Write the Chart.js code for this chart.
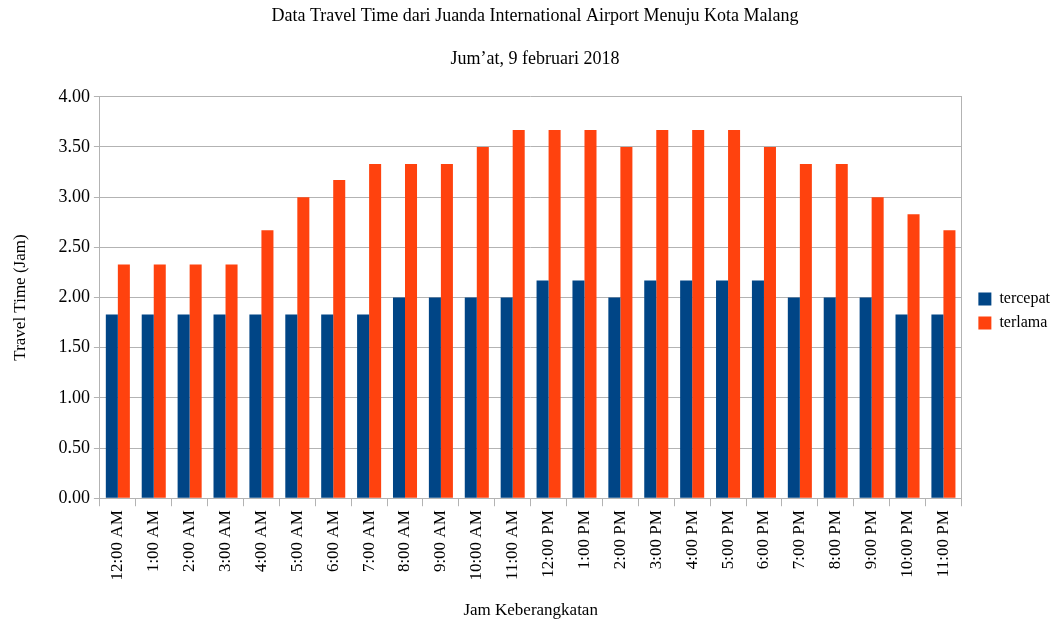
<!DOCTYPE html>
<html>
<head>
<meta charset="utf-8">
<script src="https://cdn.jsdelivr.net/npm/chart.js@4.4.0/dist/chart.umd.min.js"></script>
<style>
  html, body { margin: 0; padding: 0; background: #fff; }
  #wrap { width: 1064px; height: 625px; }
</style>
</head>
<body>
<div id="wrap"><canvas id="travelChart"></canvas></div>
<script>
var hours = ['12:00 AM', '1:00 AM', '2:00 AM', '3:00 AM', '4:00 AM', '5:00 AM', '6:00 AM', '7:00 AM', '8:00 AM', '9:00 AM', '10:00 AM', '11:00 AM',
             '12:00 PM', '1:00 PM', '2:00 PM', '3:00 PM', '4:00 PM', '5:00 PM', '6:00 PM', '7:00 PM', '8:00 PM', '9:00 PM', '10:00 PM', '11:00 PM'];
var tercepat = [1.83, 1.83, 1.83, 1.83, 1.83, 1.83, 1.83, 1.83, 2.00, 2.00, 2.00, 2.00,
                2.17, 2.17, 2.00, 2.17, 2.17, 2.17, 2.17, 2.00, 2.00, 2.00, 1.83, 1.83];
var terlama = [2.33, 2.33, 2.33, 2.33, 2.67, 3.00, 3.17, 3.33, 3.33, 3.33, 3.50, 3.67,
               3.67, 3.67, 3.50, 3.67, 3.67, 3.67, 3.50, 3.33, 3.33, 3.00, 2.83, 2.67];

var serif = 'Liberation Serif, Times New Roman, serif';
Chart.defaults.font.family = serif;
Chart.defaults.color = '#000';

var ctx = document.getElementById('travelChart').getContext('2d');
var travelChart = new Chart(ctx, {
    type: 'bar',
    data: {
    labels: hours,
    datasets: [{
        label: 'tercepat',
        data: tercepat,
        backgroundColor: '#004586'
    }, {
        label: 'terlama',
        data: terlama,
        backgroundColor: '#ff420e'
    }]
    },
    options: {
    responsive: true,
    maintainAspectRatio: false,
    animation: false,
    layout: {
        padding: { left: 10, right: 4, top: 1, bottom: 4 }
    },
    datasets: {
        bar: { categoryPercentage: 0.67, barPercentage: 1.0 }
    },
    scales: {
        x: {
        grid: { display: true, drawOnChartArea: false, offset: true, tickLength: 8, color: '#b3b3b3' },
        border: { color: '#b3b3b3' },
        ticks: { maxRotation: 90, minRotation: 90, autoSkip: false, font: { size: 17 }, padding: 4 },
        title: {
            display: true,
            text: 'Jam Keberangkatan',
            font: { size: 17 },
            padding: { top: 16, bottom: 0 }
        }
        },
        y: {
        min: 0,
        max: 4,
        ticks: {
            stepSize: 0.5,
            font: { size: 18 },
            padding: 4,
            callback: function(v) { return v.toFixed(2); }
        },
        grid: { color: '#b3b3b3', tickLength: 6 },
        border: { color: '#b3b3b3' },
        title: {
            display: true,
            text: 'Travel Time (Jam)',
            font: { size: 17 },
            padding: { top: 0, bottom: 24 }
        }
        },
        yRight: {
        position: 'right',
        min: 0,
        max: 4,
        ticks: { display: false },
        grid: { display: false },
        border: { color: '#b3b3b3' },
        afterFit: function(scale) { scale.width = scale.width + 1; }
        }
    },
    plugins: {
        legend: {
        display: true,
        position: 'right',
        labels: {
            boxWidth: 13,
            boxHeight: 13,
            padding: 8,
            font: { size: 16 }
        }
        },
        title: {
        display: true,
        text: ['Data Travel Time dari Juanda International Airport Menuju Kota Malang', '', 'Jum\u2019at, 9 februari 2018'],
        font: { size: 18, weight: 'normal' },
        lineHeight: 1.2,
        padding: { top: 4, bottom: 27 }
        },
        tooltip: { enabled: false }
    }
    }
});
</script>
</body>
</html>
